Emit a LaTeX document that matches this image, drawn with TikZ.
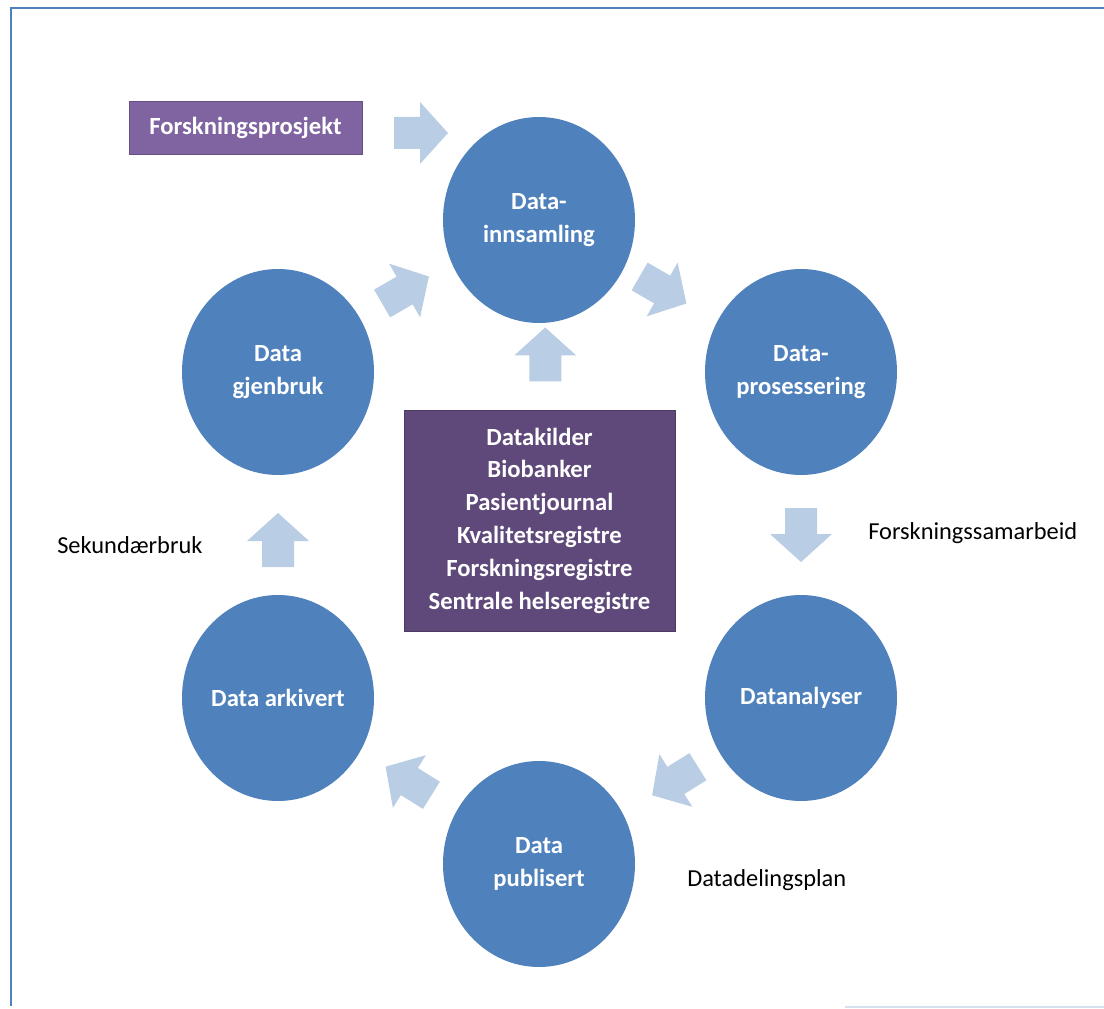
\documentclass[tikz,border=0pt]{standalone}
\usepackage{fontspec}
\setmainfont{Carlito}
\usetikzlibrary{shapes.geometric,calc}

\definecolor{stageblue}{HTML}{4F81BD}
\definecolor{arrowblue}{HTML}{B9CDE5}
\definecolor{projectpurple}{HTML}{8064A2}
\definecolor{sourcepurple}{HTML}{5F497A}

\tikzset{
	stage/.style={ellipse, fill=stageblue, minimum width=144pt, minimum height=154.5pt,
		inner sep=0pt, text=white, align=center, font=\bfseries\fontsize{18.5}{25}\selectfont},
	projectbox/.style={rectangle, fill=projectpurple, draw=projectpurple!80!black, line width=0.4pt,
		minimum width=174.75pt, minimum height=39.75pt, text=white, font=\bfseries\fontsize{18.5}{22}\selectfont},
	sourcebox/.style={rectangle, fill=sourcepurple, draw=sourcepurple!80!black, line width=0.4pt,
		minimum width=203.25pt, minimum height=165.75pt, text=white, align=center,
		font=\bfseries\fontsize{18.5}{24.6}\selectfont},
	note/.style={anchor=west, inner sep=0pt, text=black, font=\fontsize{18.3}{22}\selectfont},
	flowarrow/.pic={
		\fill[arrowblue] (-27,-16) -- (-1,-16) -- (-1,-31) -- (27,0) -- (-1,31) -- (-1,16) -- (-27,16) -- cycle;
	}
}

\begin{document}
\begin{tikzpicture}[x=0.75pt,y=-0.75pt]
	\useasboundingbox (0,0) rectangle (1104,1009);
	\fill[white] (0,0) rectangle (1104,1009);
	% frame
	\draw[stageblue, line width=2.2pt] (11,1006) -- (11,8) -- (1104,8);
	\draw[arrowblue!60, line width=1pt] (845,1007) -- (1104,1007);

	% the cycle
	\node[stage] (innsamling) at (539,220) {Data-\\innsamling};
	\node[stage] (prosessering) at (801,372) {Data-\\prosessering};
	\node[stage] (analyser) at (801,698) {Datanalyser};
	\node[stage] (publisert) at (539,864) {Data\\publisert};
	\node[stage] (arkivert) at (278,698) {Data arkivert};
	\node[stage] (gjenbruk) at (278,372) {Data\\gjenbruk};

	\node[projectbox] (prosjekt) at (245.5,127.5) {Forskningsprosjekt};
	\node[sourcebox] (kilder) at (539.5,520.5) {Datakilder\\Biobanker\\Pasientjournal\\Kvalitetsregistre\\Forskningsregistre\\Sentrale helseregistre};

	% block arrows
	\pic[rotate=0] at (421,133) {flowarrow};
	\pic[rotate=90] at ($(kilder.north)!0.5!(innsamling.south)+(6,-12)$) {flowarrow};
	\pic[rotate=30] at ($(gjenbruk)!0.5!(innsamling)+(-3,-6)$) {flowarrow};
	\pic[rotate=-30] at ($(innsamling)!0.5!(prosessering)+(-7,-6)$) {flowarrow};
	\pic[rotate=-90] at ($(prosessering)!0.5!(analyser)$) {flowarrow};
	\pic[rotate=-148] at ($(analyser)!0.5!(publisert)+(5,0)$) {flowarrow};
	\pic[rotate=148] at ($(publisert)!0.5!(arkivert)$) {flowarrow};
	\pic[rotate=90] at ($(arkivert)!0.5!(gjenbruk)+(0,5)$) {flowarrow};

	% side labels
	\node[note] (samarbeid) at (868,533) {Forskningssamarbeid};
	\node[note] (sekundaer) at (57,545) {Sekundærbruk};
	\node[note] (deling) at (687,880) {Datadelingsplan};
\end{tikzpicture}
\end{document}
